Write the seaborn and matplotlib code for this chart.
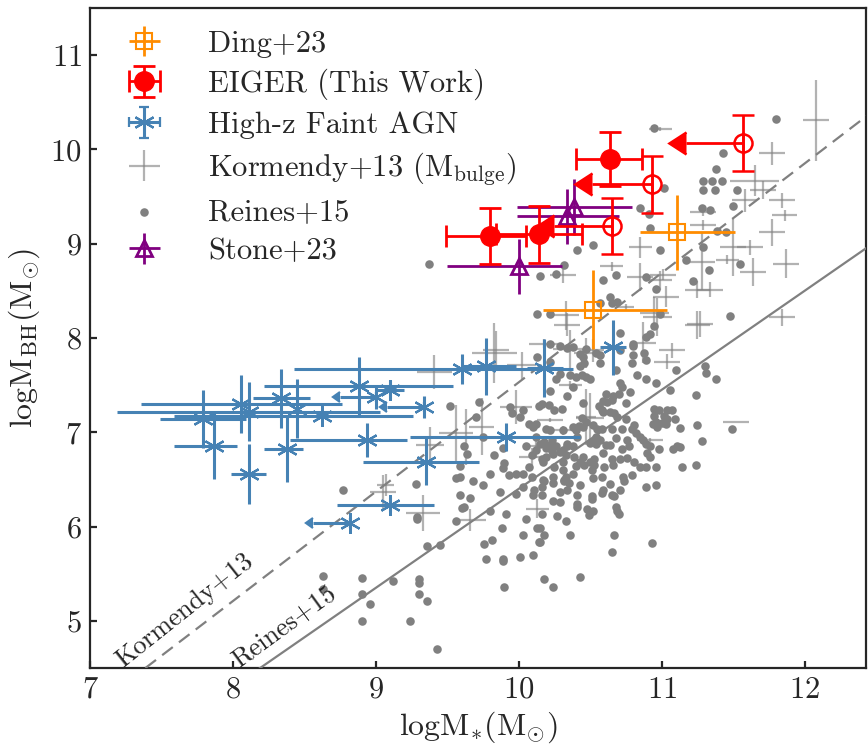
import numpy as np
import matplotlib
matplotlib.use("Agg")
import matplotlib.pyplot as plt
import seaborn as sns

# ---- Reines+15 local AGN (logM*, logMBH)
reines_x = [11.80, 10.95, 11.43, 11.38, 11.29, 11.35, 11.42, 11.29, 11.37, 11.02, 11.53, 10.85, 10.91, 11.28,
            11.34, 11.50, 10.92, 10.52, 10.41, 10.32, 9.37, 10.26, 10.15, 10.68, 10.59, 11.45, 11.39, 11.17,
            11.33, 11.22, 11.55, 11.48, 10.99, 11.29, 10.89, 10.96, 10.64, 10.69, 10.65, 10.57, 10.13, 10.22,
            10.99, 10.95, 10.92, 10.89, 10.80, 10.71, 10.80, 10.71, 10.88, 10.47, 10.54, 10.38, 10.43, 10.22,
            10.13, 10.89, 10.83, 10.79, 11.30, 11.31, 11.38, 10.96, 11.06, 11.24, 11.25, 11.49, 11.28, 11.13,
            11.13, 11.14, 11.24,
            10.57, 10.80, 10.57, 10.43, 10.44, 10.40, 10.36, 10.29, 10.47, 10.50, 10.68, 10.89, 11.10, 10.71,
            10.72, 10.38, 10.22, 10.70, 10.66, 10.61, 10.59, 10.62, 10.65, 10.75, 10.78, 10.16, 10.21, 10.45,
            10.56, 10.58, 10.59, 10.64, 10.67, 10.69, 10.30, 10.25, 10.95, 10.98, 10.95, 10.94, 11.04, 11.07,
            11.02, 11.04, 11.03, 11.00, 11.09, 10.75, 10.44, 10.47, 10.45, 10.42, 10.52, 10.55, 10.58, 10.65,
            10.72, 10.81, 10.79, 10.82, 10.85, 10.97, 10.96, 10.19, 10.22, 10.38, 10.40, 10.31, 10.41, 10.54,
            10.57, 10.54, 10.52, 10.50, 10.68, 10.76, 10.87, 10.89, 10.92, 10.98, 11.08, 11.11, 10.18, 10.22,
            10.19, 10.23, 10.24, 10.26, 10.34, 10.31, 10.33, 10.38, 10.61, 10.64, 10.72, 10.77, 10.59, 10.65,
            10.71, 10.76, 10.90, 10.92, 10.81, 10.85, 10.45, 10.50, 10.46, 10.43, 10.53, 10.53, 10.16, 10.17,
            10.19, 10.25, 10.31, 10.60, 10.66, 10.89, 10.96, 10.38, 10.33, 10.32, 10.35, 10.51, 10.52, 10.58,
            10.73, 10.74, 10.79, 10.24, 10.18, 10.16, 10.43, 10.64, 10.59, 10.89, 10.96, 10.29, 10.41, 10.51,
            10.16,
            10.34, 10.51, 10.58, 10.65, 10.67, 10.71, 10.24, 10.29, 10.41, 10.41, 10.48, 10.52, 10.49, 10.68,
            10.69, 10.70, 10.16, 10.27, 10.33, 10.15, 10.18, 10.36, 10.67, 10.15, 10.93, 10.65, 10.18, 10.43,
            10.24,
            9.59, 9.66, 9.60, 9.62, 9.29, 9.29, 9.56, 9.80, 9.91, 10.10, 10.05, 9.88, 10.13, 10.03, 10.14, 9.81,
            9.76, 9.36, 9.45, 9.77, 9.89, 9.89, 10.01, 10.10, 9.12, 9.30, 9.30, 9.30, 9.36, 9.90, 9.24, 9.43,
            8.63, 8.63, 8.90, 8.90, 8.96, 8.90,
            10.29, 10.34, 10.45, 10.46, 10.22, 10.26, 10.34, 9.52, 9.72, 9.94, 9.95, 10.03, 10.14, 9.70, 10.01,
            10.07, 10.10, 10.12, 10.12, 10.15, 10.23, 10.34, 9.75, 9.62, 9.64, 9.83, 9.89, 10.05, 10.09, 10.12,
            10.29, 10.39, 9.90, 9.89, 10.03, 10.07, 9.80, 9.93, 9.98, 9.59, 9.56, 10.09, 10.17, 10.24, 10.32,
            9.28, 9.68, 9.75, 10.11, 10.31, 10.40, 10.03, 9.98, 9.87, 9.59, 8.77]
reines_y = [10.32, 10.23, 9.96, 9.79, 9.67, 9.67, 9.67, 9.57, 9.57, 9.59, 9.57, 9.38, 9.31, 9.38,
            9.36, 9.40, 9.17, 8.99, 8.93, 8.77, 8.78, 8.68, 8.66, 8.67, 8.62, 9.12, 9.13, 8.83,
            8.72, 8.60, 8.79, 8.23, 8.93, 8.97, 8.65, 8.52, 8.44, 8.38, 8.37, 8.37, 8.25, 8.25,
            8.25, 8.13, 8.04, 8.01, 7.92, 8.05, 7.82, 7.87, 7.84, 7.88, 7.84, 7.90, 7.83, 7.94,
            7.80, 7.77, 7.61, 7.73, 7.70, 7.63, 7.57, 7.52, 7.45, 7.40, 7.08, 7.03, 6.91, 7.05,
            6.84, 6.63, 6.65,
            7.82, 7.94, 7.74, 7.70, 7.61, 7.59, 7.61, 7.62, 7.59, 7.56, 7.66, 7.56, 7.66, 7.52,
            7.48, 7.48, 7.44, 7.41, 7.38, 7.41, 7.33, 7.32, 7.34, 7.31, 7.43, 7.30, 7.29, 7.31,
            7.28, 7.24, 7.21, 7.22, 7.20, 7.16, 7.25, 7.24, 7.25, 7.24, 7.17, 7.09, 7.24, 7.24,
            7.17, 7.14, 7.09, 7.10, 7.14, 7.14, 7.15, 7.11, 7.06, 7.07, 7.08, 7.04, 7.03, 7.03,
            7.03, 7.08, 7.03, 6.99, 6.95, 7.06, 7.11, 7.03, 7.02, 7.06, 7.02, 7.02, 6.95, 6.95,
            6.92, 6.88, 6.90, 6.89, 6.94, 6.92, 6.92, 6.88, 6.85, 6.82, 6.82, 6.85, 6.90, 6.86,
            6.83, 6.80, 6.77, 6.85, 6.85, 6.81, 6.76, 6.85, 6.86, 6.87, 6.82, 6.85, 6.78, 6.72,
            6.72, 6.73, 6.78, 6.74, 6.69, 6.63, 6.74, 6.69, 6.65, 6.68, 6.65, 6.72, 6.72, 6.69,
            6.74, 6.63, 6.68, 6.63, 6.65, 6.63, 6.63, 6.56, 6.53, 6.48, 6.46, 6.60, 6.51, 6.53,
            6.53, 6.48, 6.55, 6.46, 6.48, 6.42, 6.44, 6.45, 6.39, 6.42, 6.44, 6.37, 6.33, 6.32,
            6.34,
            6.39, 6.29, 6.36, 6.34, 6.32, 6.39, 6.27, 6.26, 6.24, 6.21, 6.19, 6.16, 6.12, 6.21,
            6.17, 6.13, 6.13, 6.11, 6.06, 5.99, 5.91, 5.91, 5.91, 5.84, 5.83, 5.73, 5.44, 5.47,
            5.36,
            6.34, 6.30, 6.20, 6.21, 6.10, 6.08, 6.06, 6.17, 6.13, 6.34, 6.08, 5.98, 5.99, 5.91, 5.84, 5.86,
            5.81, 5.79, 5.80, 5.66, 5.66, 5.63, 5.68, 5.70, 5.42, 5.44, 5.40, 5.29, 5.21, 5.36, 5.00, 4.70,
            5.48, 5.34, 5.45, 5.28, 5.18, 5.00,
            7.91, 7.89, 7.80, 7.73, 7.75, 7.57, 7.39, 7.28, 7.32, 7.27, 7.20, 7.24, 7.28, 7.16, 7.16,
            7.09, 7.06, 7.09, 6.95, 6.88, 6.92, 6.88, 6.95, 6.85, 6.77, 6.76, 6.83, 6.85, 6.76, 6.81,
            6.79, 6.74, 6.67, 6.62, 6.56, 6.63, 6.56, 6.55, 6.56, 6.53, 6.51, 6.53, 6.49, 6.53, 6.49,
            6.45, 6.48, 6.44, 6.39, 6.60, 6.64, 6.42, 6.35, 6.37, 6.64, 6.39]

# ---- Kormendy+13 bulges: x, y, xerr, yerr
korm_x = [12.08, 11.77, 11.65, 11.71, 11.58, 11.84, 11.86, 11.77, 11.50, 11.62, 11.64, 11.46, 11.87, 11.28,
          11.25, 11.01, 11.03, 10.97, 10.85, 11.25, 11.84, 11.52, 11.04, 10.87, 10.99, 11.29, 11.29, 10.31,
          10.65, 10.85, 10.99, 11.34, 10.33, 10.75, 10.95, 11.27, 11.07, 9.84, 10.18, 10.52, 9.83, 10.02,
          10.34, 10.36, 10.47, 9.41, 9.98, 9.74, 9.56, 10.12, 10.09, 10.47, 9.07, 10.36, 10.50, 10.31,
          10.92, 9.05, 9.33, 9.66, 9.38, 9.63, 10.13, 10.22]
korm_y = [10.31, 9.96, 9.67, 9.57, 9.46, 9.46, 9.30, 9.12, 8.96, 8.96, 8.70, 8.83, 8.79, 8.81,
          8.51, 8.67, 8.44, 8.22, 8.96, 8.14, 8.22, 7.11, 7.75, 7.95, 10.22, 9.20, 9.34, 8.67,
          8.76, 8.65, 8.61, 8.51, 8.24, 8.33, 8.26, 8.15, 7.87, 7.87, 7.94, 7.87, 7.84, 7.71,
          8.14, 7.88, 7.84, 7.64, 7.27, 7.06, 6.99, 6.85, 6.74, 7.16, 6.44, 7.50, 7.15, 7.02,
          6.92, 6.37, 6.14, 6.07, 6.86, 6.95, 6.19, 7.13]
korm_xerr = [0.09, 0.09, 0.17, 0.09, 0.09, 0.09, 0.09, 0.09, 0.09, 0.09, 0.09, 0.08, 0.09, 0.09,
             0.09, 0.09, 0.09, 0.10, 0.08, 0.09, 0.09, 0.09, 0.09, 0.09, 0.08, 0.09, 0.09, 0.09,
             0.08, 0.09, 0.08, 0.09, 0.09, 0.06, 0.10, 0.09, 0.09, 0.09, 0.11, 0.08, 0.16, 0.10,
             0.09, 0.12, 0.08, 0.12, 0.11, 0.09, 0.12, 0.08, 0.09, 0.07, 0.06, 0.08, 0.10, 0.09,
             0.09, 0.09, 0.12, 0.11, 0.10, 0.10, 0.08, 0.09]
korm_yerr = [0.43, 0.12, 0.16, 0.10, 0.12, 0.08, 0.06, 0.14, 0.30, 0.08, 0.15, 0.05, 0.15, 0.30,
             0.09, 0.06, 0.11, 0.20, 0.11, 0.15, 0.09, 0.00, 0.08, 0.22, 0.02, 0.05, 0.05, 0.09,
             0.05, 0.15, 0.10, 0.08, 0.15, 0.03, 0.18, 0.14, 0.08, 0.20, 0.05, 0.12, 0.32, 0.14,
             0.12, 0.20, 0.16, 0.18, 0.18, 0.30, 0.30, 0.12, 0.09, 0.30, 0.12, 0.04, 0.27, 0.05,
             0.02, 0.18, 0.19, 0.12, 0.20, 0.30, 0.10, 0.02]

# ---- High-z faint AGN
blue_x = [7.79, 7.87, 8.06, 8.11, 8.11, 8.34, 8.38, 8.45, 8.62, 8.88, 9.10, 8.94, 9.35, 9.91, 9.10,
          9.60, 9.77, 10.18, 10.66]
blue_y = [7.14, 6.85, 7.30, 7.22, 6.56, 7.36, 6.82, 7.25, 7.17, 7.49, 7.45, 6.92, 6.69, 6.95, 6.23,
          7.67, 7.70, 7.68, 7.90]
blue_xlo = [0.30, 0.28, 0.70, 0.92, 0.12, 0.20, 0.16, 0.00, 1.03, 0.66, 0.10, 0.54, 0.44, 0.67, 0.37,
            1.17, 0.16, 0.12, 0.09]
blue_xhi = [0.30, 0.16, 0.70, 0.92, 0.12, 0.20, 0.11, 0.00, 0.64, 0.66, 0.10, 0.28, 0.37, 0.52, 0.31,
            0.78, 0.21, 0.13, 0.09]
blue_yerr = [0.31, 0.35, 0.31, 0.31, 0.32, 0.31, 0.35, 0.31, 0.00, 0.31, 0.10, 0.18, 0.25, 0.15, 0.08,
             0.16, 0.30, 0.31, 0.29]
# upper limits on M*
blim_x = [9.00, 9.34, 8.82]
blim_y = [7.37, 7.27, 6.04]
blim_len = [0.25, 0.26, 0.26]
blim_yerr = [0.12, 0.12, 0.05]

# ---- EIGER (this work)
eiger_x = [9.80, 10.14, 10.64]
eiger_y = [9.08, 9.10, 9.90]
eiger_xlo = [0.31, 0.30, 0.24]
eiger_xhi = [0.25, 0.30, 0.22]
eiger_yerr = [0.30, 0.30, 0.29]
elim_x = [11.57, 10.93, 10.65]
elim_y = [10.07, 9.63, 9.19]
elim_len = [0.40, 0.42, 0.40]
elim_yerr = [0.30, 0.30, 0.30]

# ---- Stone+23
stone_x = [10.00, 10.34, 10.39]
stone_y = [8.76, 9.29, 9.39]
stone_xlo = [0.50, 0.35, 0.40]
stone_xhi = [0.30, 0.36, 0.40]
stone_yerr = [0.29, 0.29, 0.30]

# ---- Ding+23
ding_x = [11.11, 10.52]
ding_y = [9.12, 8.30]
ding_xlo = [0.26, 0.35]
ding_xhi = [0.40, 0.52]
ding_yerr = [0.40, 0.42]

# local relations
kormendy_a, kormendy_b = 8.69, 1.16
reines_a, reines_b = 7.45, 1.05

sns.set_style("ticks")
plt.rcParams["font.family"] = "serif"
plt.rcParams["font.serif"] = ["cmr10"]
plt.rcParams["mathtext.fontset"] = "cm"
plt.rcParams["axes.unicode_minus"] = False
plt.rcParams["axes.formatter.use_mathtext"] = True

fig = plt.figure(figsize=(8.68, 7.44), dpi=100)
ax = fig.add_axes([90 / 868, 76 / 744, 776 / 868, 660 / 744])

ax.errorbar(korm_x, korm_y, xerr=korm_xerr, yerr=korm_yerr, fmt="none", ecolor="gray", alpha=0.6,
            elinewidth=1.6, label=r"Kormendy+13 (M$_{\rm bulge}$)", zorder=1)
sns.scatterplot(x=reines_x, y=reines_y, ax=ax, color="gray", s=38, linewidth=0,
                label="Reines+15", zorder=2)

xx = np.array([6.5, 13.0])
ax.plot(xx, kormendy_a + kormendy_b * (xx - 11), color="gray", lw=1.6, ls=(0, (6, 3.5)), zorder=3)
ax.plot(xx, reines_a + reines_b * (xx - 11), color="gray", lw=1.6, zorder=3)
ax.text(7.66, 5.11, "Kormendy+13", rotation=38.5, rotation_mode="anchor", ha="center", va="center",
        fontsize=19)
ax.text(8.36, 4.94, "Reines+15", rotation=36, rotation_mode="anchor", ha="center", va="center",
        fontsize=19)

blue = "steelblue"
ast = (6, 2, 0)
blue_style = dict(marker=ast, ls="none", ms=15, mec=blue, mew=1.6, color=blue, elinewidth=2.2)
ax.errorbar(blue_x, blue_y, xerr=[blue_xlo, blue_xhi], yerr=blue_yerr, fmt="", capsize=0, zorder=4,
            **blue_style)
ax.errorbar(blim_x, blim_y, xerr=blim_len, xuplims=True, fmt="", capsize=3.6, zorder=4, **blue_style)
ax.errorbar(blim_x, blim_y, yerr=blim_yerr, fmt="none", ecolor=blue, elinewidth=2.2, capsize=0, zorder=4)
ax.errorbar([np.nan], [np.nan], xerr=[0.1], yerr=[0.1], fmt="", capsize=3.6,
            label="High-z Faint AGN", **blue_style)

ax.errorbar(ding_x, ding_y, xerr=[ding_xlo, ding_xhi], yerr=ding_yerr, fmt="s", ms=12, mfc="none",
            mec="darkorange", mew=1.5, color="darkorange", elinewidth=2, capsize=0,
            label="Ding+23", zorder=5)
ax.errorbar(stone_x, stone_y, xerr=[stone_xlo, stone_xhi], yerr=stone_yerr, fmt="^", ms=12, mfc="none",
            mec="purple", mew=2, color="purple", elinewidth=2, capsize=0, label="Stone+23", zorder=5)

ax.errorbar(eiger_x, eiger_y, xerr=[eiger_xlo, eiger_xhi], yerr=eiger_yerr, fmt="o", ms=14,
            color="red", elinewidth=2, capsize=8, capthick=2, label="EIGER (This Work)", zorder=6)
ax.errorbar(elim_x, elim_y, xerr=elim_len, xuplims=True, yerr=elim_yerr, fmt="o", ms=13, mfc="none",
            mec="red", mew=1.8, color="red", elinewidth=2, capsize=8, capthick=2, zorder=6)

ax.set_xlim(7, 12.43)
ax.set_ylim(4.5, 11.5)
ax.set_xticks([7, 8, 9, 10, 11, 12])
ax.set_yticks([5, 6, 7, 8, 9, 10, 11])
ax.tick_params(direction="in", length=5, width=1.6, labelsize=22, pad=6)
for s in ax.spines.values():
    s.set_linewidth(1.6)
ax.set_xlabel(r"logM$_{*}$(M$_{\odot}$)", fontsize=23, labelpad=4)
ax.set_ylabel(r"logM$_{\rm BH}$(M$_{\odot}$)", fontsize=23, labelpad=6)

order = ["Ding+23", "EIGER (This Work)", "High-z Faint AGN", r"Kormendy+13 (M$_{\rm bulge}$)",
         "Reines+15", "Stone+23"]
handles, labels = ax.get_legend_handles_labels()
hmap = dict(zip(labels, handles))
ax.legend([hmap[l] for l in order], order, loc="upper left", bbox_to_anchor=(0.035, 0.985),
          borderaxespad=0, frameon=False, fontsize=22, handlelength=0.98, handletextpad=1.6,
          labelspacing=0.37)

fig.savefig("out.png", dpi=100)
